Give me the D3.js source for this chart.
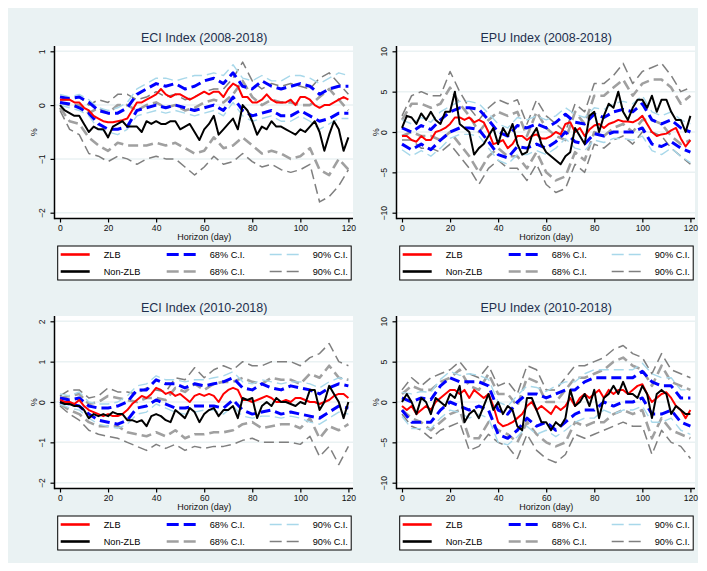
<!DOCTYPE html>
<html>
<head>
<meta charset="utf-8">
<script src="https://cdn.jsdelivr.net/npm/d3@7"></script>
<style>
  body { margin: 0; background: #ffffff; }
  text { font-family: "Liberation Sans", Arial, sans-serif; }
</style>
</head>
<body>
<div id="chart"></div>
<script>
// horizons: point estimates read every 2 days, bands every 4 days
var hFine = d3.range(0, 121, 2);
var hCoarse = d3.range(0, 121, 4);
var xTicks = [0, 20, 40, 60, 80, 100, 120];
var eciTicksA = [-2, -1, 0, 1];
var eciTicksB = [-2, -1, 0, 1, 2];
var epuTicks = [-10, -5, 0, 5, 10];

// ---- ECI Index (2008-2018)
var eciA_zlb = [0.1,0.1,0.1,0.05,0.05,-0.05,-0.1,-0.2,-0.25,-0.3,-0.32,-0.32,-0.3,-0.28,-0.25,-0.1,0.05,0.05,0.1,0.15,0.2,0.3,0.2,0.15,0.2,0.2,0.15,0.1,0.15,0.2,0.25,0.2,0.25,0.25,0.15,0.3,0.4,0.35,0.15,0.15,0.05,0.05,0.1,0.2,0.1,0.05,0.05,0.05,0.1,0.0,0.15,0.15,0.1,0.0,-0.05,0.0,0.0,0.05,0.1,0.15,0.1];
var eciA_nzlb = [0.0,-0.1,-0.15,-0.2,-0.2,-0.35,-0.5,-0.4,-0.45,-0.45,-0.6,-0.4,-0.35,-0.3,-0.4,-0.4,-0.4,-0.5,-0.3,-0.35,-0.3,-0.35,-0.35,-0.3,-0.3,-0.45,-0.4,-0.35,-0.5,-0.65,-0.45,-0.35,-0.2,-0.55,-0.45,-0.35,-0.25,-0.45,0.0,-0.1,-0.3,-0.55,-0.4,-0.45,-0.3,-0.4,-0.4,-0.45,-0.5,-0.55,-0.45,-0.5,-0.4,-0.3,-0.5,-0.85,-0.55,-0.3,-0.45,-0.85,-0.6];
var eciA_zlb68u = [0.15,0.12,0.15,0.05,-0.1,-0.15,-0.15,-0.05,0.2,0.3,0.4,0.35,0.4,0.3,0.35,0.45,0.5,0.4,0.6,0.35,0.3,0.45,0.35,0.3,0.35,0.4,0.35,0.2,0.3,0.35,0.35];
var eciA_zlb68l = [0.05,0.02,-0.05,-0.15,-0.35,-0.45,-0.45,-0.4,-0.1,-0.05,0.0,-0.05,0.0,-0.05,-0.1,-0.05,0.0,-0.1,0.15,-0.1,-0.2,-0.15,-0.1,-0.2,-0.2,-0.1,-0.2,-0.3,-0.25,-0.15,-0.15];
var eciA_zlb90u = [0.2,0.15,0.2,0.1,-0.05,-0.1,-0.05,0.05,0.3,0.4,0.5,0.5,0.45,0.5,0.55,0.55,0.6,0.55,0.75,0.5,0.45,0.55,0.45,0.45,0.55,0.55,0.5,0.4,0.5,0.6,0.55];
var eciA_zlb90l = [0.0,-0.05,-0.1,-0.2,-0.45,-0.5,-0.55,-0.45,-0.2,-0.15,-0.1,-0.15,-0.1,-0.15,-0.2,-0.15,-0.1,-0.2,0.05,-0.2,-0.3,-0.25,-0.2,-0.3,-0.3,-0.2,-0.3,-0.45,-0.35,-0.25,-0.25];
var eciA_nz68u = [0.05,0.0,0.0,-0.15,-0.05,-0.15,0.0,0.0,-0.1,0.0,0.05,-0.05,0.0,-0.1,-0.05,0.05,0.1,0.05,0.2,0.45,0.15,0.0,0.1,0.05,0.05,0.0,0.0,0.15,0.3,0.1,-0.1];
var eciA_nz68l = [-0.05,-0.3,-0.35,-0.6,-0.75,-0.85,-0.7,-0.75,-0.75,-0.75,-0.7,-0.75,-0.7,-0.8,-0.9,-0.85,-0.6,-0.8,-0.75,-0.6,-0.75,-0.9,-0.85,-0.9,-1.0,-0.95,-0.8,-1.2,-1.3,-1.0,-1.2];
var eciA_nz90u = [0.1,0.1,0.15,0.0,0.1,0.05,0.2,0.2,0.1,0.15,0.25,0.15,0.2,0.1,0.15,0.25,0.3,0.3,0.5,0.8,0.45,0.3,0.4,0.35,0.4,0.35,0.3,0.5,0.6,0.4,0.2];
var eciA_nz90l = [-0.1,-0.45,-0.55,-0.9,-0.95,-1.05,-0.95,-1.0,-1.1,-1.0,-0.95,-1.0,-1.0,-1.15,-1.3,-1.15,-0.95,-1.1,-1.05,-0.9,-1.05,-1.15,-1.1,-1.2,-1.25,-1.2,-1.1,-1.8,-1.7,-1.5,-1.2];

// ---- EPU Index (2008-2018)
var epuA_zlb = [-0.5,-0.5,-1.0,-1.2,-0.5,-1.0,-1.0,0.0,0.2,0.5,1.0,1.8,1.8,1.5,1.8,1.2,1.5,1.2,0.0,-1.5,-1.3,-1.0,-2.0,-1.5,-0.5,-0.5,-1.0,-0.5,-0.3,-0.8,-0.8,-0.5,0.0,-0.3,1.0,1.2,0.0,0.5,-0.5,0.3,0.8,1.0,0.5,1.0,1.2,1.5,1.3,1.3,1.2,1.5,2.0,1.0,0.0,-0.5,-0.3,-0.2,0.2,0.5,-0.8,-1.8,-1.0];
var epuA_nzlb = [0.5,2.0,1.8,1.0,2.3,1.5,2.5,1.5,1.0,2.5,2.5,5.0,1.0,0.5,0.0,-2.8,-2.0,-1.5,-0.5,0.5,-1.5,0.5,-0.5,1.0,-1.5,-2.8,-2.5,-0.5,0.5,-1.5,-2.5,-3.0,-3.5,-4.0,-3.0,-2.5,0.5,-0.5,-1.5,2.0,2.5,0.0,2.0,3.5,3.0,5.0,2.5,1.5,3.0,4.0,4.0,3.0,4.5,2.5,4.0,4.0,2.5,1.5,1.5,0.0,2.0];
var epuA_zlb68u = [0.5,0.0,0.8,0.3,1.5,2.5,3.0,3.0,2.8,1.5,0.0,-0.5,0.8,0.5,1.0,0.5,1.2,2.2,1.2,1.0,2.2,1.8,2.5,2.8,2.5,3.5,1.5,1.0,1.5,0.5,0.0];
var epuA_zlb68l = [-1.5,-2.2,-1.5,-2.2,-1.0,0.0,0.5,0.5,0.3,-1.2,-2.8,-3.2,-1.8,-2.0,-1.5,-2.0,-1.2,0.0,-1.2,-1.5,-0.2,-0.5,0.0,0.0,0.0,0.5,-1.5,-1.8,-1.2,-2.0,-2.5];
var epuA_zlb90u = [1.5,1.0,1.8,1.2,2.5,3.2,3.8,3.8,3.5,2.3,1.0,0.5,1.8,1.5,2.0,1.5,2.0,3.0,2.2,1.8,3.0,2.8,3.5,3.8,3.5,4.5,2.5,2.0,2.5,1.5,1.0];
var epuA_zlb90l = [-2.2,-3.0,-2.3,-3.0,-2.0,-0.8,-0.3,-0.3,-0.5,-2.0,-3.5,-4.0,-2.8,-2.8,-2.3,-2.8,-2.0,-0.8,-2.0,-2.3,-1.0,-1.3,-0.8,-0.8,-1.0,-0.5,-2.3,-2.8,-2.0,-3.0,-3.8];
var epuA_nz68u = [1.5,3.5,3.5,3.0,3.5,5.5,3.5,2.0,0.0,1.5,2.5,2.0,2.5,-0.5,2.5,0.5,-0.5,-1.0,2.5,1.0,4.5,4.5,5.5,6.5,4.5,6.0,6.5,6.5,5.5,3.5,4.5];
var epuA_nz68l = [-0.5,0.0,-0.5,-0.5,-1.0,0.0,-1.5,-3.0,-5.0,-3.0,-2.0,-3.0,-3.0,-4.5,-2.5,-5.0,-6.0,-5.5,-2.5,-3.5,0.0,-0.5,0.5,1.0,0.0,1.5,1.5,1.0,-0.5,-1.5,-1.0];
var epuA_nz90u = [2.0,4.5,5.0,4.5,4.5,7.5,5.0,3.0,1.5,3.0,4.0,3.5,4.0,1.0,4.0,2.0,1.0,0.0,3.5,2.5,6.0,6.0,7.0,8.5,6.0,7.5,8.0,8.5,7.0,5.0,5.5];
var epuA_nz90l = [-1.0,-1.0,-2.0,-2.0,-2.5,-1.5,-3.0,-4.5,-6.5,-4.5,-3.5,-4.5,-4.5,-6.0,-4.0,-6.5,-7.5,-7.0,-4.0,-5.0,-1.5,-2.0,-1.0,-0.5,-1.5,0.0,0.0,-0.5,-2.0,-3.0,-4.0];

// ---- ECI Index (2010-2018)
var eciB_zlb = [0.05,0.0,0.0,-0.05,0.05,-0.1,-0.2,-0.25,-0.3,-0.35,-0.3,-0.35,-0.35,-0.3,-0.2,-0.05,0.05,0.15,0.1,0.2,0.35,0.3,0.2,0.25,0.15,0.2,0.1,0.0,0.15,0.2,0.15,0.2,0.15,0.0,0.2,0.3,0.35,0.3,0.05,0.05,0.0,0.05,0.1,0.15,0.1,0.0,0.0,0.05,0.0,0.1,0.1,0.05,0.0,0.0,-0.05,0.0,0.05,0.15,0.2,0.2,0.1];
var eciB_nzlb = [0.0,-0.05,-0.05,-0.1,-0.1,-0.2,-0.4,-0.3,-0.35,-0.3,-0.35,-0.25,-0.3,-0.3,-0.45,-0.45,-0.5,-0.45,-0.6,-0.35,-0.3,-0.35,-0.45,-0.5,-0.2,-0.3,-0.4,-0.15,-0.25,-0.5,-0.3,-0.2,-0.15,-0.35,-0.2,-0.2,-0.1,-0.4,0.1,0.05,0.1,-0.4,-0.1,0.0,-0.1,0.1,0.0,0.0,-0.05,-0.1,0.0,-0.05,0.3,0.3,-0.2,0.0,0.4,0.2,0.0,-0.4,0.0];
var eciB_zlb68u = [0.1,0.05,0.1,-0.1,-0.15,-0.15,-0.1,0.0,0.3,0.3,0.55,0.45,0.45,0.35,0.45,0.4,0.45,0.5,0.6,0.35,0.3,0.45,0.35,0.3,0.4,0.35,0.3,0.2,0.35,0.45,0.4];
var eciB_zlb68l = [0.0,-0.05,-0.1,-0.3,-0.45,-0.5,-0.55,-0.45,-0.15,-0.1,0.05,-0.05,-0.15,-0.15,-0.1,-0.1,-0.1,-0.15,0.05,-0.2,-0.3,-0.25,-0.2,-0.3,-0.25,-0.3,-0.35,-0.4,-0.25,-0.1,-0.15];
var eciB_zlb90u = [0.2,0.15,0.25,0.0,-0.05,-0.05,0.0,0.15,0.4,0.45,0.65,0.55,0.55,0.5,0.55,0.55,0.6,0.65,0.75,0.5,0.45,0.55,0.5,0.45,0.5,0.5,0.45,0.35,0.5,0.6,0.55];
var eciB_zlb90l = [-0.05,-0.15,-0.2,-0.4,-0.55,-0.6,-0.65,-0.55,-0.3,-0.25,-0.05,-0.15,-0.25,-0.3,-0.25,-0.2,-0.2,-0.3,-0.1,-0.35,-0.4,-0.35,-0.35,-0.4,-0.35,-0.4,-0.5,-0.55,-0.4,-0.25,-0.3];
var eciB_nz68u = [0.1,0.15,0.2,-0.05,0.0,0.15,0.1,0.05,0.0,0.1,0.1,0.05,0.35,0.25,0.45,0.3,0.45,0.5,0.5,0.6,0.5,0.45,0.6,0.55,0.55,0.45,0.7,0.6,0.9,0.6,0.55];
var eciB_nz68l = [-0.05,-0.2,-0.3,-0.5,-0.6,-0.6,-0.6,-0.75,-0.8,-0.85,-0.75,-0.85,-0.7,-0.9,-0.8,-0.8,-0.75,-0.75,-0.7,-0.55,-0.5,-0.65,-0.6,-0.55,-0.55,-0.65,-0.4,-0.9,-0.6,-0.7,-0.55];
var eciB_nz90u = [0.15,0.3,0.3,0.1,0.15,0.35,0.25,0.25,0.2,0.35,0.3,0.25,0.6,0.55,0.85,0.6,0.8,0.9,0.8,1.0,0.9,0.9,1.0,1.0,1.0,0.9,1.1,1.2,1.45,1.0,0.9];
var eciB_nz90l = [-0.1,-0.3,-0.45,-0.7,-0.8,-0.85,-0.9,-1.0,-1.1,-1.2,-1.05,-1.15,-1.05,-1.2,-1.1,-1.15,-1.1,-1.1,-1.05,-0.95,-0.9,-1.0,-1.0,-1.0,-1.0,-1.05,-0.85,-1.35,-1.1,-1.55,-1.1];

// ---- EPU Index (2010-2018)
var epuB_zlb = [-0.5,-1.0,-0.5,-1.5,-1.0,-0.5,-1.0,0.0,0.5,1.0,1.5,1.5,1.0,1.5,0.5,1.5,1.0,0.5,1.0,-0.5,-2.5,-3.0,-2.8,-2.5,-2.0,-1.5,-0.5,0.0,-1.0,-0.5,-1.0,-1.5,-0.5,-1.0,-0.5,0.5,-0.5,0.5,1.0,0.5,1.0,1.5,0.5,1.5,1.0,1.5,1.5,1.0,1.5,2.0,2.2,1.0,0.0,0.5,1.0,1.2,0.5,-0.5,-1.0,-2.0,-1.0];
var epuB_nzlb = [0.0,1.0,0.0,-1.5,0.5,0.0,-1.5,0.5,0.0,-0.5,1.0,0.5,2.0,-2.5,-1.5,-1.0,-2.0,-0.5,1.0,-1.0,0.0,-1.5,-0.5,-1.0,-3.0,-3.5,0.5,0.5,-1.0,-2.5,-2.5,-3.5,-2.5,-3.0,-2.0,1.5,-0.5,0.0,1.0,-0.5,1.5,-2.0,0.5,1.0,2.0,1.0,2.5,1.0,1.0,0.5,2.0,1.0,-2.0,1.0,1.5,1.0,-1.5,-0.5,-1.0,-1.5,-1.5];
var epuB_zlb68u = [0.5,0.0,0.5,0.3,2.0,3.0,2.5,2.5,2.5,2.0,-1.0,-1.5,0.0,1.0,1.0,0.5,1.0,1.5,1.5,2.5,3.0,3.0,3.0,3.0,3.0,3.8,2.5,2.0,2.0,0.5,0.5];
var epuB_zlb68l = [-1.0,-2.5,-2.5,-2.5,-1.0,0.0,-0.5,-1.0,-0.5,-1.0,-4.0,-4.5,-3.5,-2.0,-3.0,-2.5,-3.5,-2.5,-1.5,-1.0,-1.0,0.0,-0.5,0.0,0.0,0.5,-1.5,-1.5,-1.0,-2.5,-3.0];
var epuB_zlb90u = [1.2,1.0,1.3,1.2,2.8,3.8,3.3,3.5,3.3,2.8,0.0,-0.5,0.8,2.0,1.8,1.3,2.0,2.5,2.5,3.5,4.0,4.0,4.0,4.0,4.0,4.8,3.5,3.0,3.0,1.5,1.5];
var epuB_zlb90l = [-1.8,-3.3,-3.3,-3.3,-2.0,-1.0,-1.3,-2.0,-1.5,-2.0,-5.0,-5.3,-4.3,-3.0,-4.0,-3.5,-4.3,-3.5,-2.5,-2.0,-2.0,-1.0,-1.5,-1.0,-1.0,-0.5,-2.5,-2.5,-2.0,-3.5,-4.0];
var epuB_nz68u = [1.0,2.0,1.5,1.5,2.5,3.0,4.0,2.0,1.5,3.5,1.0,1.0,-0.5,3.0,2.5,0.0,0.0,1.5,3.0,3.0,3.5,4.0,5.0,5.5,4.5,4.0,2.0,4.5,2.5,2.0,1.5];
var epuB_nz68l = [-1.0,-2.0,-2.5,-3.5,-2.5,-1.5,-1.0,-4.5,-4.5,-2.5,-3.5,-4.0,-5.0,-2.5,-4.0,-5.0,-5.5,-5.0,-2.5,-3.0,-2.5,-2.5,-1.5,-1.0,-1.5,-1.0,-4.5,-2.0,-3.5,-4.0,-4.5];
var epuB_nz90u = [1.5,3.0,2.0,3.0,3.5,4.0,5.0,3.5,3.0,4.5,2.0,2.5,1.0,4.5,4.0,1.5,1.5,3.0,4.5,4.5,5.0,5.5,6.5,7.0,6.0,5.5,3.5,6.0,4.0,3.5,3.0];
var epuB_nz90l = [-1.5,-3.0,-3.5,-4.5,-3.5,-3.0,-2.5,-6.0,-5.5,-4.0,-5.0,-5.5,-7.0,-4.0,-6.0,-7.0,-7.5,-6.5,-4.0,-4.5,-4.0,-3.5,-3.0,-2.5,-3.0,-3.0,-6.5,-3.5,-5.0,-5.5,-7.0];

var panels = [
  { title: "ECI Index (2008-2018)", col: 0, row: 0, yDomain: [-2, 1], yTicks: eciTicksA,
    zlb: eciA_zlb, nzlb: eciA_nzlb, zlb68u: eciA_zlb68u, zlb68l: eciA_zlb68l, zlb90u: eciA_zlb90u, zlb90l: eciA_zlb90l,
    nz68u: eciA_nz68u, nz68l: eciA_nz68l, nz90u: eciA_nz90u, nz90l: eciA_nz90l },
  { title: "EPU Index (2008-2018)", col: 1, row: 0, yDomain: [-10, 10], yTicks: epuTicks,
    zlb: epuA_zlb, nzlb: epuA_nzlb, zlb68u: epuA_zlb68u, zlb68l: epuA_zlb68l, zlb90u: epuA_zlb90u, zlb90l: epuA_zlb90l,
    nz68u: epuA_nz68u, nz68l: epuA_nz68l, nz90u: epuA_nz90u, nz90l: epuA_nz90l },
  { title: "ECI Index (2010-2018)", col: 0, row: 1, yDomain: [-2, 2], yTicks: eciTicksB,
    zlb: eciB_zlb, nzlb: eciB_nzlb, zlb68u: eciB_zlb68u, zlb68l: eciB_zlb68l, zlb90u: eciB_zlb90u, zlb90l: eciB_zlb90l,
    nz68u: eciB_nz68u, nz68l: eciB_nz68l, nz90u: eciB_nz90u, nz90l: eciB_nz90l },
  { title: "EPU Index (2010-2018)", col: 1, row: 1, yDomain: [-10, 10], yTicks: epuTicks,
    zlb: epuB_zlb, nzlb: epuB_nzlb, zlb68u: epuB_zlb68u, zlb68l: epuB_zlb68l, zlb90u: epuB_zlb90u, zlb90l: epuB_zlb90l,
    nz68u: epuB_nz68u, nz68l: epuB_nz68l, nz90u: epuB_nz90u, nz90l: epuB_nz90l }
];

// line styles (drawing order)
var styles = {
  zlb:   { color: "#ff0000", width: 2,   dash: null },
  z68:   { color: "#0000ff", width: 3,   dash: "10,5" },
  z90:   { color: "#a8d8ea", width: 1.4, dash: "10,5" },
  nzlb:  { color: "#000000", width: 2,   dash: null },
  n68:   { color: "#a0a0a0", width: 2.6, dash: "10,5" },
  n90:   { color: "#7f7f7f", width: 1.5, dash: "10,5" }
};

var W = 707, H = 571;
var colOff = [0, 342], rowOff = [0, 270];

var svg = d3.select("#chart").append("svg")
  .attr("width", W).attr("height", H);

svg.append("rect")
  .attr("x", 8).attr("y", 8).attr("width", 690).attr("height", 555)
  .attr("fill", "#eaf2f3");

function drawSeries(g, xs, ys, x, y, st) {
  var line = d3.line()
    .x(function(d) { return x(d[0]); })
    .y(function(d) { return y(d[1]); });
  g.append("path")
    .datum(d3.zip(xs, ys))
    .attr("d", line)
    .attr("fill", "none")
    .attr("stroke", st.color)
    .attr("stroke-width", st.width)
    .attr("stroke-linejoin", "round")
    .attr("stroke-dasharray", st.dash);
}

function drawLegend(g, left, top) {
  var lg = g.append("g").attr("class", "legend");
  lg.append("rect")
    .attr("x", left).attr("y", top)
    .attr("width", 293.5).attr("height", 34)
    .attr("fill", "#ffffff").attr("stroke", "#000000").attr("stroke-width", 1);

  var items = [
    { st: styles.zlb,  label: "ZLB",      c: 0, r: 0 },
    { st: styles.z68,  label: "68% C.I.", c: 1, r: 0 },
    { st: styles.z90,  label: "90% C.I.", c: 2, r: 0 },
    { st: styles.nzlb, label: "Non-ZLB",  c: 0, r: 1 },
    { st: styles.n68,  label: "68% C.I.", c: 1, r: 1 },
    { st: styles.n90,  label: "90% C.I.", c: 2, r: 1 }
  ];
  var colX = [3, 109, 212];
  items.forEach(function(it) {
    var x0 = left + colX[it.c];
    var yy = top + 8.5 + it.r * 17;
    lg.append("line")
      .attr("x1", x0).attr("x2", x0 + 29)
      .attr("y1", yy).attr("y2", yy)
      .attr("stroke", it.st.color)
      .attr("stroke-width", it.st.dash ? it.st.width : 2.6)
      .attr("stroke-dasharray", it.st.dash ? "12,5" : null);
    lg.append("text")
      .attr("x", x0 + 43).attr("y", yy + 3.2)
      .attr("font-size", 9.2).attr("fill", "#000")
      .text(it.label);
  });
}

function drawPanel(p) {
  var cx = colOff[p.col], ry = rowOff[p.row];
  var left = 54.5 + cx, right = 353 + cx, top = 46 + ry, bottom = 218.5 + ry;

  var x = d3.scaleLinear().domain([0, 120]).range([60 + cx, 348.4 + cx]);
  var y = d3.scaleLinear().domain(p.yDomain).range([212.7 + ry, 51.3 + ry]);

  var g = svg.append("g").attr("class", "panel");

  g.append("rect")
    .attr("x", left).attr("y", top)
    .attr("width", right - left).attr("height", bottom - top)
    .attr("fill", "#ffffff");

  // horizontal grid
  g.append("g").selectAll("line")
    .data(p.yTicks).enter().append("line")
    .attr("x1", left).attr("x2", right)
    .attr("y1", function(d) { return y(d); })
    .attr("y2", function(d) { return y(d); })
    .attr("stroke", "#eaf2f3").attr("stroke-width", 1.5);

  // series
  drawSeries(g, hCoarse, p.nz90u, x, y, styles.n90);
  drawSeries(g, hCoarse, p.nz90l, x, y, styles.n90);
  drawSeries(g, hCoarse, p.nz68u, x, y, styles.n68);
  drawSeries(g, hCoarse, p.nz68l, x, y, styles.n68);
  drawSeries(g, hCoarse, p.zlb90u, x, y, styles.z90);
  drawSeries(g, hCoarse, p.zlb90l, x, y, styles.z90);
  drawSeries(g, hCoarse, p.zlb68u, x, y, styles.z68);
  drawSeries(g, hCoarse, p.zlb68l, x, y, styles.z68);
  drawSeries(g, hFine, p.zlb, x, y, styles.zlb);
  drawSeries(g, hFine, p.nzlb, x, y, styles.nzlb);

  // y axis
  var yAxis = g.append("g")
    .attr("transform", "translate(" + left + ",0)")
    .call(d3.axisLeft(y).tickValues(p.yTicks).tickSize(4).tickFormat(d3.format("d")));
  yAxis.select(".domain").remove();
  yAxis.selectAll(".tick line").attr("stroke", "#000").attr("stroke-width", 1.2);
  yAxis.selectAll(".tick text")
    .attr("x", 0).attr("dy", 0)
    .attr("transform", "translate(-9.5,0) rotate(-90)")
    .attr("text-anchor", "middle")
    .attr("font-size", 8.6).attr("fill", "#111")
    .style("font-family", "Liberation Sans, Arial, sans-serif");
  g.append("line")
    .attr("x1", left).attr("x2", left).attr("y1", top).attr("y2", bottom + 0.75)
    .attr("stroke", "#000").attr("stroke-width", 1.5);

  // x axis
  var xAxis = g.append("g")
    .attr("transform", "translate(0," + bottom + ")")
    .call(d3.axisBottom(x).tickValues(xTicks).tickSize(4).tickPadding(2));
  xAxis.select(".domain").remove();
  xAxis.selectAll(".tick line").attr("stroke", "#000").attr("stroke-width", 1.2);
  xAxis.selectAll(".tick text")
    .attr("font-size", 8.6).attr("fill", "#111")
    .style("font-family", "Liberation Sans, Arial, sans-serif");
  g.append("line")
    .attr("x1", left).attr("x2", right).attr("y1", bottom).attr("y2", bottom)
    .attr("stroke", "#000").attr("stroke-width", 1.5);

  // titles
  var midX = (x.range()[0] + x.range()[1]) / 2;
  g.append("text")
    .attr("x", midX).attr("y", 42 + ry)
    .attr("text-anchor", "middle")
    .attr("font-size", 12.5).attr("fill", "#1e2f4d")
    .text(p.title);

  g.append("text")
    .attr("x", midX).attr("y", 239.5 + ry)
    .attr("text-anchor", "middle")
    .attr("font-size", 9).attr("fill", "#111")
    .text("Horizon (day)");

  g.append("text")
    .attr("transform", "translate(" + (36.5 + cx) + "," + ((top + bottom) / 2) + ") rotate(-90)")
    .attr("text-anchor", "middle")
    .attr("font-size", 9).attr("fill", "#111")
    .text("%");

  drawLegend(g, 57.7 + cx, 246 + ry);
}

panels.forEach(drawPanel);
</script>
</body>
</html>
